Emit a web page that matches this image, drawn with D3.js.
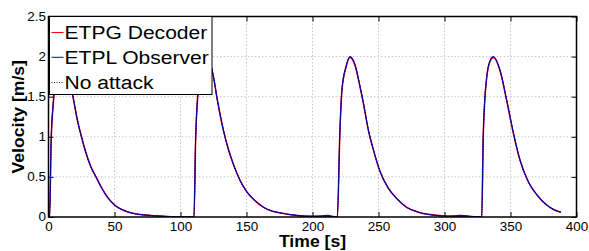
<!DOCTYPE html>
<html>
<head>
<meta charset="utf-8">
<script src="https://cdn.jsdelivr.net/npm/d3@7"></script>
<style>
  body { margin: 0; background: #fff; }
  svg { display: block; font-family: "Liberation Sans", Arial, sans-serif; }
</style>
</head>
<body>
<svg class="chart"></svg>
<script>
'use strict';

// values
var time = [
  0, 0.8, 2, 3.5, 5, 7, 10, 13, 16, 19, 22, 25, 28, 32, 36, 40, 45, 50, 56, 63, 70, 80, 90, 100,
  110.2, 111.5, 113, 114.5, 116.5, 119.5, 122.5, 125, 128, 132.4, 136, 140, 145, 150, 156, 163, 170, 176, 188, 200, 211.7, 218.8,
  220.8, 222.3, 225.4, 228.4, 232.2, 236, 238.6, 242.3, 246.1, 251.1, 257.4, 263.8, 271.4, 280.2, 289, 300, 312, 328.2,
  329.4, 332, 334.5, 337, 342.1, 347.1, 352.2, 357.2, 363.5, 369.8, 377.4, 383, 388.3
];

var noAttack = [
  0, 0, 0.95, 1.4, 1.65, 1.88, 2.0, 1.93, 1.72, 1.46, 1.2, 1.0, 0.82, 0.63, 0.5, 0.37, 0.24, 0.15, 0.09, 0.05, 0.03, 0.015, 0.007, 0.003,
  0, 1.0, 1.5, 1.75, 1.92, 2.0, 1.92, 1.75, 1.45, 1.09, 0.86, 0.66, 0.46, 0.32, 0.21, 0.12, 0.07, 0.05, 0.02, 0.008, 0.003, 0,
  1.09, 1.585, 1.875, 2.0, 1.9, 1.63, 1.42, 1.09, 0.84, 0.57, 0.36, 0.23, 0.12, 0.06, 0.03, 0.012, 0.004, 0,
  1.05, 1.75, 1.95, 2.0, 1.83, 1.46, 1.05, 0.71, 0.44, 0.28, 0.15, 0.09, 0.06
];

var etpgDecoder = [
  0, 0, 0.94, 1.4, 1.65, 1.88, 1.99, 1.92, 1.71, 1.46, 1.2, 1.0, 0.82, 0.63, 0.5, 0.37, 0.24, 0.15, 0.09, 0.05, 0.03, 0.015, 0.007, 0.003,
  0, 0.99, 1.5, 1.75, 1.92, 1.99, 1.91, 1.74, 1.45, 1.09, 0.86, 0.66, 0.46, 0.32, 0.21, 0.12, 0.07, 0.05, 0.02, 0.008, 0.003, 0,
  1.08, 1.58, 1.87, 1.99, 1.89, 1.62, 1.41, 1.08, 0.84, 0.57, 0.36, 0.23, 0.12, 0.06, 0.03, 0.012, 0.004, 0,
  1.04, 1.74, 1.94, 1.99, 1.82, 1.45, 1.04, 0.71, 0.44, 0.28, 0.15, 0.09, 0.06
];

var etplObserver = [
  0, 0, 0.95, 1.4, 1.65, 1.88, 2.0, 1.93, 1.72, 1.46, 1.2, 1.0, 0.82, 0.63, 0.5, 0.37, 0.24, 0.15, 0.09, 0.05, 0.03, 0.015, 0.007, 0.003,
  0, 1.0, 1.5, 1.75, 1.92, 2.0, 1.92, 1.75, 1.45, 1.09, 0.86, 0.66, 0.46, 0.32, 0.21, 0.12, 0.07, 0.05, 0.02, 0.008, 0.02, 0,
  1.09, 1.585, 1.875, 2.0, 1.9, 1.63, 1.42, 1.09, 0.84, 0.57, 0.36, 0.23, 0.12, 0.06, 0.03, 0.012, 0.02, 0,
  1.05, 1.75, 1.95, 2.0, 1.83, 1.46, 1.05, 0.71, 0.44, 0.28, 0.15, 0.09, 0.06
];

var xTicks = [0, 50, 100, 150, 200, 250, 300, 350, 400];
var yTicks = [0, 0.5, 1, 1.5, 2, 2.5];
var yTickLabels = ['0', '0.5', '1', '1.5', '2', '2.5'];
var legendLabels = ['ETPG Decoder', 'ETPL Observer', 'No attack'];

var width = 589;
var height = 251;
var plotLeft = 48.5, plotRight = 576.5, plotTop = 16.5, plotBottom = 217;

var svg = d3.select('.chart')
    .attr('width', width)
    .attr('height', height);

var x = d3.scaleLinear().domain([0, 400]).range([plotLeft, plotRight]);
var y = d3.scaleLinear().domain([0, 2.5]).range([plotBottom, plotTop]);

// stretch text a little wider, the original is rendered wide
function stretch(sel, k) {
    sel.each(function () {
        var w = this.getComputedTextLength();
        d3.select(this).attr('textLength', w * k).attr('lengthAdjust', 'spacingAndGlyphs');
    });
}

// grid
svg.append('g').selectAll('line')
    .data(xTicks.slice(1, -1))
    .enter().append('line')
    .attr('x1', function (d) {return x(d);})
    .attr('x2', function (d) {return x(d);})
    .attr('y1', plotTop)
    .attr('y2', plotBottom)
    .style('stroke', '#c8c8c8')
    .style('stroke-width', 1)
    .style('stroke-dasharray', '1.5,2');

svg.append('g').selectAll('line')
    .data(yTicks.slice(1, -1))
    .enter().append('line')
    .attr('x1', plotLeft)
    .attr('x2', plotRight)
    .attr('y1', function (d) {return y(d);})
    .attr('y2', function (d) {return y(d);})
    .style('stroke', '#c8c8c8')
    .style('stroke-width', 1)
    .style('stroke-dasharray', '1.5,2');

// curves
svg.append('clipPath').attr('id', 'clip')
    .append('rect')
    .attr('x', plotLeft).attr('y', plotTop)
    .attr('width', plotRight - plotLeft).attr('height', plotBottom - plotTop);

function series(values) {
    return time.map(function (t, i) {return [t, values[i]];});
}

var line = d3.line()
    .x(function (d) {return x(d[0]);})
    .y(function (d) {return y(d[1]);})
    .curve(d3.curveMonotoneX);

var plot = svg.append('g').attr('clip-path', 'url(#clip)');

plot.append('path')
    .attr('d', line(series(etpgDecoder)))
    .style('fill', 'none')
    .style('stroke', '#ff0000')
    .style('stroke-width', 1.5);

plot.append('path')
    .attr('d', line(series(etplObserver)))
    .style('fill', 'none')
    .style('stroke', '#0000ff')
    .style('stroke-width', 1.1);

plot.append('path')
    .attr('d', line(series(noAttack)))
    .style('fill', 'none')
    .style('stroke', '#000')
    .style('stroke-width', 1)
    .style('stroke-dasharray', '1,1.5');

// axes
svg.append('g')
    .attr('transform', 'translate(0,' + plotBottom + ')')
    .call(d3.axisBottom(x).tickValues(xTicks).tickSizeInner(-5).tickSizeOuter(0).tickPadding(5.5));

svg.append('g')
    .attr('transform', 'translate(' + plotLeft + ',0)')
    .call(d3.axisLeft(y).tickValues(yTicks).tickSizeInner(-5).tickSizeOuter(0).tickPadding(2.5)
        .tickFormat(function (d, i) {return yTickLabels[i];}));

svg.append('g')
    .attr('transform', 'translate(0,' + plotTop + ')')
    .call(d3.axisTop(x).tickValues(xTicks).tickSizeInner(-5).tickSizeOuter(0).tickFormat(''));

svg.append('g')
    .attr('transform', 'translate(' + plotRight + ',0)')
    .call(d3.axisRight(y).tickValues(yTicks).tickSizeInner(-5).tickSizeOuter(0).tickFormat(''));

svg.selectAll('.domain').remove();
svg.selectAll('.tick line').style('stroke', '#000').style('stroke-width', 1);
svg.selectAll('.tick text')
    .style('font-family', '"Liberation Sans", Arial, sans-serif')
    .style('font-size', '12px')
    .style('fill', '#000');
stretch(svg.selectAll('.tick text'), 1.12);

svg.append('rect')
    .attr('x', plotLeft).attr('y', plotTop)
    .attr('width', plotRight - plotLeft).attr('height', plotBottom - plotTop)
    .style('fill', 'none')
    .style('stroke', '#000')
    .style('stroke-width', 1.5);

// axis titles
var xTitle = svg.append('text')
    .attr('x', (plotLeft + plotRight) / 2)
    .attr('y', 246.5)
    .attr('text-anchor', 'middle')
    .style('font-size', '16px')
    .style('font-weight', 'bold')
    .text('Time [s]');
stretch(xTitle, 1.1);

var yTitle = svg.append('text')
    .attr('transform', 'translate(24,' + (plotTop + plotBottom) / 2 + ') rotate(-90)')
    .attr('text-anchor', 'middle')
    .style('font-size', '16px')
    .style('font-weight', 'bold')
    .text('Velocity [m/s]');
stretch(yTitle, 1.1);

// legend
var legend = svg.append('g');

legend.append('rect')
    .attr('x', 49.5).attr('y', 16.5)
    .attr('width', 162.5).attr('height', 78)
    .style('fill', '#fff')
    .style('stroke', '#000')
    .style('stroke-width', 1);

var legendColors = ['#ff0000', '#0000ff', '#333'];
var legendDash = ['none', 'none', '1,1.5'];
var rowY = [32.5, 57.3, 82.5];

var item = legend.selectAll('g.item')
    .data(legendLabels)
    .enter().append('g')
    .attr('class', 'item')
    .attr('transform', function (d, i) {return 'translate(0,' + rowY[i] + ')';});

item.append('line')
    .attr('x1', 51.5).attr('x2', 63.5)
    .attr('y1', 0).attr('y2', 0)
    .style('stroke', function (d, i) {return legendColors[i];})
    .style('stroke-width', 1)
    .style('stroke-dasharray', function (d, i) {return legendDash[i];});

var itemText = item.append('text')
    .attr('x', 64.5)
    .attr('y', 6.7)
    .style('font-size', '18px')
    .style('fill', '#000')
    .text(function (d) {return d;});
stretch(itemText, 1.17);
</script>
</body>
</html>
